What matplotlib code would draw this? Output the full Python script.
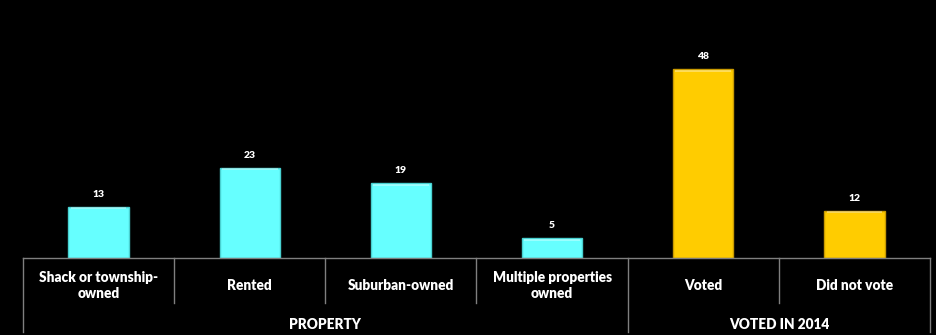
import numpy as np
import matplotlib.pyplot as plt
import matplotlib.transforms as mtransforms

categories = ["Shack or township-\nowned", "Rented", "Suburban-owned",
              "Multiple properties\nowned", "Voted", "Did not vote"]
values = [13, 23, 19, 5, 48, 12]
groups = ["PROPERTY", "VOTED IN 2014"]
group_sizes = [4, 2]
bar_colors = ["#66FFFF"] * 4 + ["#FFCC00"] * 2
edge_colors = ["#48d0d0"] * 4 + ["#c99a00"] * 2

plt.rcParams['font.family'] = ['Lato', 'DejaVu Sans']

fig = plt.figure(figsize=(9.37, 3.35), dpi=100, facecolor='black')
ax = fig.add_axes([23 / 937, 77 / 335, 907 / 937, 236 / 335])
ax.set_facecolor('black')

x = np.arange(len(categories))
bars = ax.bar(x, values, width=0.40, color=bar_colors,
              edgecolor=edge_colors, linewidth=1.0, zorder=2)

# light strip along the top of each bar
for b, v in zip(bars, values):
    ax.bar(b.get_x() + b.get_width() / 2, 0.5, bottom=v - 0.6, width=b.get_width() * 0.92,
           color='white', alpha=0.35, linewidth=0, zorder=3)

for xi, v in zip(x, values):
    ax.text(xi, v + 2.0, str(v), ha='center', va='bottom', color='white',
            fontsize=7.5, fontweight='heavy')

ax.set_xlim(-0.5, len(categories) - 0.5)
ax.set_ylim(0, 60)
for s in ax.spines.values():
    s.set_visible(False)
ax.set_xticks([])
ax.set_yticks([])

# category table below the axis
trans = mtransforms.blended_transform_factory(ax.transData, ax.transAxes)
line_kw = dict(color='#7f7f7f', lw=1.0, transform=trans, clip_on=False)
ax.plot([-0.5, len(categories) - 0.5], [0, 0], **line_kw)

bounds = [0] + list(np.cumsum(group_sizes))
for i in range(len(categories) + 1):
    edge = i - 0.5
    low = -0.3136 if i in bounds else -0.19
    ax.plot([edge, edge], [0, low], **line_kw)

for xi, lab in zip(x, categories):
    ax.text(xi, -0.118, lab, ha='center', va='center', color='white',
            fontsize=9.8, fontweight='heavy', transform=trans, linespacing=1.25)

for g, a, b in zip(groups, bounds[:-1], bounds[1:]):
    ax.text((a + b - 1) / 2, -0.28, g, ha='center', va='center', color='white',
            fontsize=9.8, fontweight='heavy', transform=trans)

fig.savefig('out.png', dpi=100, facecolor='black')
